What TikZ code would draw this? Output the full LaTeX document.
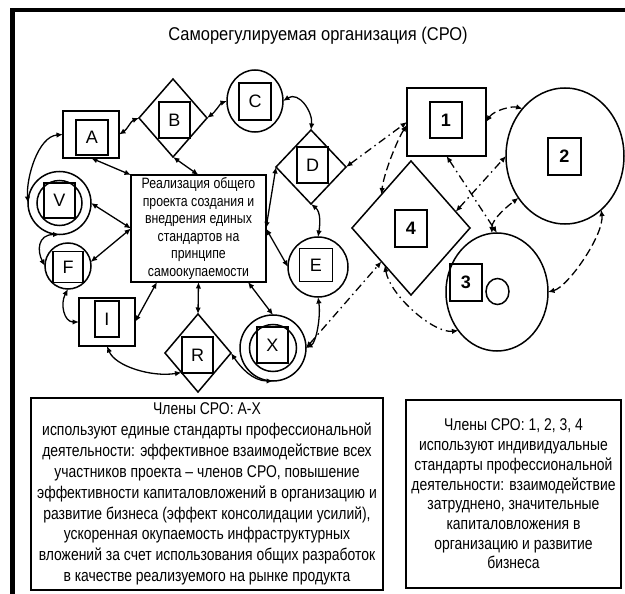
\documentclass[tikz,border=0pt]{standalone}
\usepackage{fontspec}
\setmainfont{Liberation Sans}
\newfontfamily\nar{Liberation Sans}[FakeStretch=0.82]
\newfontfamily\tit{Liberation Sans}[FakeStretch=0.89]
\usetikzlibrary{shapes.geometric,arrows.meta,calc}
\begin{document}
\begin{tikzpicture}[x=1pt,y=-1pt,
  shp/.style={draw,line width=1.5pt,inner sep=0pt,outer sep=0pt},
  box/.style={shp,rectangle},
  dia/.style={shp,diamond},
  circ/.style={shp,ellipse},
  lab/.style={font=\fontsize{18}{18}\selectfont},
  num/.style={font=\fontsize{18}{18}\selectfont\bfseries},
  con/.style={line width=1.3pt,{Latex[length=6.5pt,width=5.5pt]}-{Latex[length=6.5pt,width=5.5pt]}},
  dd/.style={con,dash pattern=on 8pt off 4pt on 1.5pt off 4pt},
  ds/.style={con,dash pattern=on 8pt off 4pt},
]
\useasboundingbox (0,0) rectangle (625,594);
\fill[white] (0,0) rectangle (625,594);
% frame
\draw[line width=4pt] (10,10.5) -- (625,10.5);
\draw[line width=5pt] (12.5,8.5) -- (12.5,594);
% title
\node[anchor=base,font=\tit\fontsize{18.5}{20}\selectfont] (title) at (318,41) {Саморегулируемая организация (СРО)};
% left group
\node[box,minimum width=56pt,minimum height=47pt] (A) at (91,134.5) {};
\node[box,lab,minimum width=32pt,minimum height=35pt] (Ai) at (92,137.5) {A};
\node[dia,minimum width=68pt,minimum height=78pt] (B) at (173,118) {};
\node[box,lab,minimum width=31pt,minimum height=36pt] (Bi) at (174.5,120) {B};
\node[circ,minimum width=56pt,minimum height=62pt] (C) at (255,101) {};
\node[box,lab,minimum width=32pt,minimum height=37pt] (Ci) at (255,101.5) {C};
\node[dia,minimum width=70pt,minimum height=74pt] (D) at (311,167) {};
\node[box,lab,minimum width=31pt,minimum height=36pt] (Di) at (312.5,165) {D};
\node[box,minimum width=135pt,minimum height=107pt,align=center,
      font=\nar\fontsize{15}{17.5}\selectfont] (M) at (198.5,228.5)
      {Реализация общего\\проекта создания и\\внедрения единых\\стандартов на\\принципе\\самоокупаемости};
\node[circ,minimum width=63pt,minimum height=63pt] (V) at (59.5,203) {};
\node[circ,minimum width=45pt,minimum height=45pt] (V2) at (59.5,203) {};
\node[box,lab,minimum width=31pt,minimum height=35pt] (Vi) at (59.5,200.5) {V};
\node[circ,minimum width=46pt,minimum height=46pt] (F) at (68,266) {};
\node[box,lab,minimum width=30pt,minimum height=31pt] (Fi) at (68,267) {F};
\node[box,minimum width=56pt,minimum height=48pt] (I) at (107,322) {};
\node[box,lab,minimum width=24pt,minimum height=36pt] (Ii) at (107,319) {I};
\node[dia,minimum width=66pt,minimum height=78pt] (R) at (198,353) {};
\node[box,lab,minimum width=31pt,minimum height=36pt] (Ri) at (197.5,355) {R};
\node[circ,minimum width=66pt,minimum height=66pt] (X) at (273,348) {};
\node[circ,minimum width=47pt,minimum height=47pt] (X2) at (273,348) {};
\node[box,lab,minimum width=31pt,minimum height=36pt] (Xi) at (272.5,345) {X};
\node[circ,minimum width=60pt,minimum height=60pt] (E) at (318,267) {};
\node[box,lab,minimum width=33pt,minimum height=33pt] (Ei) at (316,265) {E};
% right group
\node[box,minimum width=79pt,minimum height=68pt] (One) at (446.5,122) {};
\node[box,num,minimum width=32pt,minimum height=36pt] (Onei) at (446,120) {1};
\node[circ,minimum width=118pt,minimum height=136pt] (Two) at (565,156) {};
\node[box,num,minimum width=33pt,minimum height=37pt] (Twoi) at (564.5,156.5) {2};
\node[dia,minimum width=118pt,minimum height=134pt] (Four) at (411,228) {};
\node[box,num,minimum width=32pt,minimum height=37pt] (Fouri) at (411,228.5) {4};
\node[circ,minimum width=102pt,minimum height=118pt] (Three) at (497,292) {};
\node[box,num,minimum width=32pt,minimum height=37pt] (Threei) at (466,282.5) {3};
\node[circ,minimum width=23pt,minimum height=26pt] (Threec) at (497.5,291.5) {};
% bottom boxes
\node[box,minimum width=352pt,minimum height=192pt,align=center,
      font=\nar\fontsize{17}{20.9}\selectfont] (L) at (207,494)
 {Члены СРО: А-Х\\
используют единые стандарты профессиональной\\
деятельности: эффективное взаимодействие всех\\
участников проекта – членов СРО, повышение\\
эффективности капиталовложений в организацию и\\
развитие бизнеса (эффект консолидации усилий),\\
ускоренная окупаемость инфраструктурных\\
вложений за счет использования общих разработок\\
в качестве реализуемого на рынке продукта};
\node[box,minimum width=215pt,minimum height=188pt,align=center,
      font=\nar\fontsize{17}{19.7}\selectfont] (Rb) at (513.5,494)
 {Члены СРО: 1, 2, 3, 4\\
используют индивидуальные\\
стандарты профессиональной\\
деятельности: взаимодействие\\
затруднено, значительные\\
капиталовложения в\\
организацию и развитие\\
бизнеса};
% solid connectors
\draw[con] (B.west) .. controls +(-8,3) and +(8,-5) .. (A.east);
\draw[con] (B.east) .. controls +(8,-6) and +(-6,2) .. (C.west);
\draw[con] (C.east) .. controls +(16,-10) and +(2,-18) .. (D.north);
\draw[con] (B.south) -- (M.north);
\draw[con] (A.south) -- (M.north west);
\draw[con] (A.west) .. controls +(-25,2) and +(-2,-25) .. (V.west);
\draw[con] (V.east) -- (M.west);
\draw[con] (F.10) -- (M.west);
\draw[con] (V.south) .. controls +(-22,0) and +(-8,-15) .. (F.west);
\draw[con] (F.south) .. controls +(-8,15) and +(-15,0) .. (I.west);
\draw[con] (I.east) -- ([xshift=26pt]M.south west);
\draw[con] (I.south) .. controls +(8,20) and +(-30,5) .. (R.south west);
\draw[con] (M.south) -- (R.north);
\draw[con] ([xshift=-18pt]M.south east) -- (X.north);
\draw[con] (R.east) .. controls +(10,15) and +(-20,0) .. (X.south);
\draw[con] (E.south) .. controls +(3,20) and +(10,-5) .. (X.east);
\draw[con] (M.east) -- (E.west);
\draw[con] (D.west) -- (M.east);
\draw[con] (D.south) .. controls +(10,8) and +(2,-12) .. (E.north);
% right group connectors
\draw[dd] (D.east) -- (One.west);
\draw[dd] (X.east) -- (Four.south west);
\draw[ds] ([yshift=-3pt]One.west) .. controls +(-10,15) and +(2,-20) .. (Four.north west);
\draw[ds] (One.east) .. controls +(8,-12) and +(-10,-3) .. (Two.132);
\draw[dd] (One.south) -- (Three.north);
\draw[dd] (Four.20) -- (Two.west);
\draw[ds] (Three.95) .. controls +(0,-15) and +(-8,6) .. (Two.222);
\draw[dd] (Four.235) .. controls +(5,30) and +(-25,3) .. (Three.225);
\draw[ds] (Three.east) .. controls +(20,-5) and +(3,25) .. (Two.-56);
\end{tikzpicture}
\end{document}
